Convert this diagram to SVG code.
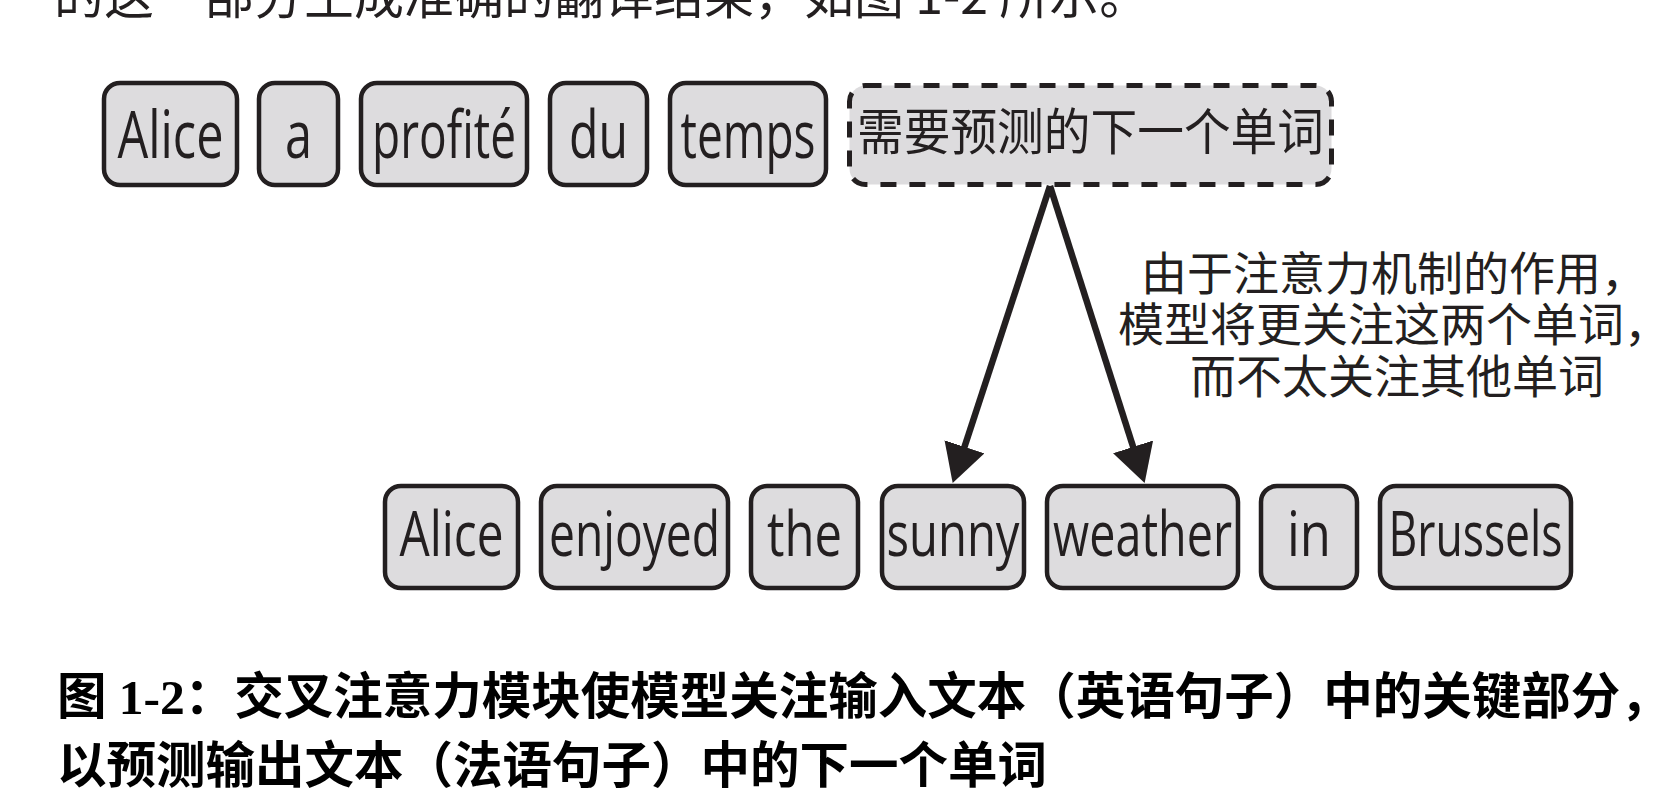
<svg xmlns="http://www.w3.org/2000/svg" width="1670" height="804" viewBox="0 0 1670 804">
<style>
.box{fill:#dddcde;stroke:#231f20;stroke-width:4.5}
.dash{fill:#dddcde;stroke:#231f20;stroke-width:5;stroke-dasharray:16 13}
.w{font-family:"Open Sans","Noto Sans",sans-serif;fill:#231f20;text-anchor:middle}
.t1{font-size:66px}
.t2{font-size:62px}
.cjk{font-family:"Noto Sans CJK SC","Noto Sans",sans-serif;fill:#231f20}
.cap{font-family:"Liberation Serif","Noto Sans CJK SC",serif;font-weight:bold;font-size:49.5px;fill:#000}
.arr{stroke:#231f20;stroke-width:6.5;fill:none}
</style>
<defs>
<marker id="ah" markerUnits="userSpaceOnUse" viewBox="0 0 38 42" markerWidth="38" markerHeight="42" refX="1" refY="21" orient="auto">
<path d="M0,0 L38,21 L0,42 Z" fill="#231f20"/>
</marker>
</defs>
<rect width="1670" height="804" fill="#fff"/>
<text class="cjk" x="54" y="14" font-size="50">的这一部分生成准确的翻译结果，如图 1-2 所示。</text>

<g id="fr-alice"><rect class="box" x="104" y="83" width="133" height="102" rx="16"/><text class="w t1" x="170.5" y="158" textLength="106" lengthAdjust="spacingAndGlyphs">Alice</text></g>
<g id="fr-a"><rect class="box" x="259" y="83" width="79" height="102" rx="16"/><text class="w t1" x="298.5" y="158" textLength="27" lengthAdjust="spacingAndGlyphs">a</text></g>
<g id="fr-profite"><rect class="box" x="361" y="83" width="166" height="102" rx="16"/><text class="w t1" x="444" y="158" textLength="144" lengthAdjust="spacingAndGlyphs">profité</text></g>
<g id="fr-du"><rect class="box" x="550" y="83" width="97" height="102" rx="16"/><text class="w t1" x="598.5" y="158" textLength="59" lengthAdjust="spacingAndGlyphs">du</text></g>
<g id="fr-temps"><rect class="box" x="670" y="83" width="156" height="102" rx="16"/><text class="w t1" x="748" y="158" textLength="135" lengthAdjust="spacingAndGlyphs">temps</text></g>
<g id="next-word"><rect class="dash" x="849.5" y="85.5" width="482" height="99" rx="16"/><text class="cjk" x="1090.5" y="150" font-size="50" text-anchor="middle" textLength="467" lengthAdjust="spacingAndGlyphs">需要预测的下一个单词</text></g>

<g id="en-alice"><rect class="box" x="385" y="486" width="133" height="102" rx="16"/><text class="w t2" x="451.5" y="556" textLength="104" lengthAdjust="spacingAndGlyphs">Alice</text></g>
<g id="en-enjoyed"><rect class="box" x="541" y="486" width="187" height="102" rx="16"/><text class="w t2" x="634.5" y="556" textLength="171" lengthAdjust="spacingAndGlyphs">enjoyed</text></g>
<g id="en-the"><rect class="box" x="751" y="486" width="107" height="102" rx="16"/><text class="w t2" x="804.5" y="556" textLength="75" lengthAdjust="spacingAndGlyphs">the</text></g>
<g id="en-sunny"><rect class="box" x="882" y="486" width="142" height="102" rx="16"/><text class="w t2" x="953" y="556" textLength="133" lengthAdjust="spacingAndGlyphs">sunny</text></g>
<g id="en-weather"><rect class="box" x="1047" y="486" width="191" height="102" rx="16"/><text class="w t2" x="1142.5" y="556" textLength="179" lengthAdjust="spacingAndGlyphs">weather</text></g>
<g id="en-in"><rect class="box" x="1261" y="486" width="96" height="102" rx="16"/><text class="w t2" x="1309" y="556" textLength="44" lengthAdjust="spacingAndGlyphs">in</text></g>
<g id="en-brussels"><rect class="box" x="1380" y="486" width="191" height="102" rx="16"/><text class="w t2" x="1475.5" y="556" textLength="174" lengthAdjust="spacingAndGlyphs">Brussels</text></g>

<g id="connectors">
<line class="arr" x1="1050" y1="186" x2="964.2" y2="447.8" marker-end="url(#ah)"/>
<line class="arr" x1="1050" y1="186" x2="1133.4" y2="447.8" marker-end="url(#ah)"/>
</g>

<g id="annotation" class="cjk" font-size="46">
<text x="1141" y="290">由于注意力机制的作用，</text>
<text x="1118" y="341">模型将更关注这两个单词，</text>
<text x="1190" y="393">而不太关注其他单词</text>
</g>

<g id="caption" class="cap">
<text x="57" y="714">图 1-2：交叉注意力模块使模型关注输入文本（英语句子）中的关键部分，</text>
<text x="57" y="783">以预测输出文本（法语句子）中的下一个单词</text>
</g>
</svg>
